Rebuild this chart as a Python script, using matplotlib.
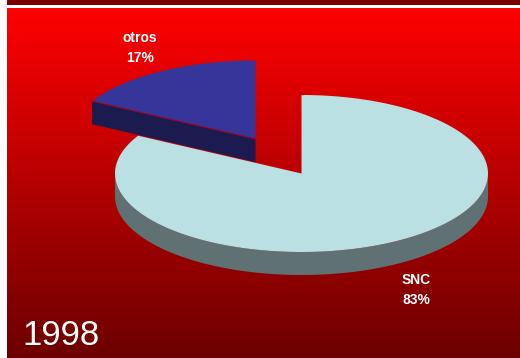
import numpy as np
import matplotlib
matplotlib.use("Agg")
import matplotlib.pyplot as plt
from matplotlib.patches import Polygon, Rectangle

categories = ["SNC", "otros"]
shares = [83, 17]
year_label = "1998"

W, H = 520, 358
fig = plt.figure(figsize=(W / 100, H / 100), dpi=100, facecolor="white")
ax = fig.add_axes([0, 0, 1, 1])
ax.set_xlim(0, W)
ax.set_ylim(H, 0)
ax.axis("off")

# Slide background: dark band on top, then a vertical red gradient
ax.add_patch(Rectangle((7, 0), W - 7, 5, fc="#7a0000", ec="none"))
top, bottom = np.array([255, 0, 0]), np.array([108, 0, 0])
ramp = np.linspace(0, 1, 350)[:, None, None]
grad = (top[None, None, :] * (1 - ramp) + bottom[None, None, :] * ramp) / 255
ax.imshow(grad, extent=[7, W, H, 8], aspect="auto", interpolation="bilinear", zorder=0)
ax.set_xlim(0, W)
ax.set_ylim(H, 0)

RX, RY, DEPTH = 186.5, 78.5, 23


def rim(cx, cy, a0, a1, n=240):
    # angles run clockwise from twelve o'clock, squashed for the tilted disc
    t = np.radians(np.linspace(a0, a1, n))
    return np.column_stack([cx + RX * np.sin(t), cy - RY * np.cos(t)])


snc_sweep = 360 * shares[0] / sum(shares)

# Exploded "otros" slice: cut face first, then the top
ox, oy = 255.5, 139
o_arc = rim(ox, oy, snc_sweep, 360)
tip = o_arc[0]
ax.add_patch(Polygon([(ox, oy), tip, tip + [0, DEPTH], (ox, oy + DEPTH)],
                     fc="#1b1b50", ec="none", zorder=2))
ax.add_patch(Polygon(np.vstack([[(ox, oy)], o_arc]), fc="#36369a", ec="none", zorder=3))
ax.plot([tip[0], ox], [tip[1], oy], color="#a00020", lw=0.8, zorder=3.5)

# Main "SNC" slice: outer wall, then the top
cx, cy = 301.5, 173.5
s_arc = rim(cx, cy, 0, snc_sweep)
front = rim(cx, cy, 90, 270)
ax.add_patch(Polygon(np.vstack([front, (front + [0, DEPTH])[::-1]]),
                     fc="#5f7173", ec="none", zorder=4))
ax.add_patch(Polygon(np.vstack([[(cx, cy)], s_arc]), fc="#bae0e4", ec="none", zorder=5))

# Labels
font = ["Liberation Sans", "DejaVu Sans"]
for x, y, name, val in [(140, 38.5, categories[1], shares[1]), (416.5, 280.5, categories[0], shares[0])]:
    ax.text(x, y, name, color="white", fontsize=10, fontweight="bold", family=font,
            ha="center", va="center", zorder=6)
    ax.text(x, y + 19, f"{val}%", color="white", fontsize=10, fontweight="bold", family=font,
            ha="center", va="center", zorder=6)
ax.text(61, 335.5, year_label, color="white", fontsize=25, family=font,
        ha="center", va="center", zorder=6)

fig.savefig("out.png", dpi=100, facecolor="white")
